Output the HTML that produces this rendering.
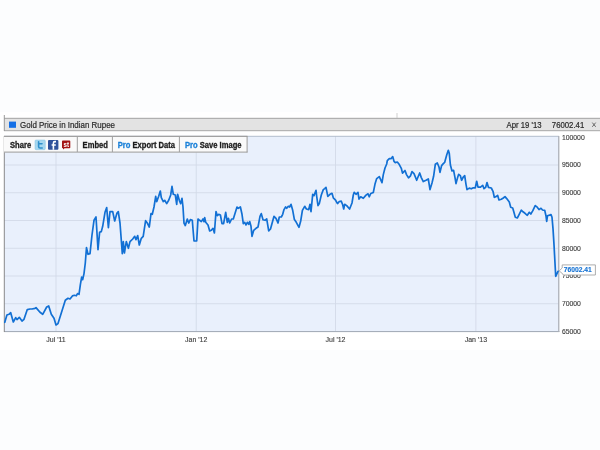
<!DOCTYPE html>
<html><head><meta charset="utf-8"><title>Gold Price in Indian Rupee</title>
<style>
html,body{margin:0;padding:0;background:#fcfdfe;}
body{width:600px;height:450px;overflow:hidden;position:relative;font-family:"Liberation Sans",sans-serif;}
svg{position:absolute;left:0;top:0;display:block;filter:blur(0.3px);}
text{font-family:"Liberation Sans",sans-serif;}
</style></head><body>
<svg width="600" height="450" viewBox="0 0 600 450">
<rect x="0" y="0" width="600" height="450" fill="#fcfdfe"/>
<rect x="0" y="112" width="600" height="238" fill="#ffffff"/>

<rect x="4" y="118" width="600" height="13" fill="#e3e3e3"/>
<rect x="4" y="117.8" width="600" height="1" fill="#a4a4a4"/>
<rect x="4" y="130.2" width="600" height="1" fill="#a8a8a8"/>
<rect x="3.8" y="115" width="1" height="16" fill="#9a9a9a"/>
<rect x="396.6" y="113" width="0.8" height="5" fill="#c4c4c4"/>
<rect x="9" y="121.6" width="7" height="6.2" fill="#146fe6"/>
<text transform="translate(20.1,127.6) scale(0.925,1)" font-size="8.6" fill="#2a2a2a" stroke="#2a2a2a" stroke-width="0.2">Gold Price in Indian Rupee</text>
<text transform="translate(541.6,127.5) scale(0.925,1)" font-size="8.4" fill="#2a2a2a" stroke="#2a2a2a" stroke-width="0.2" text-anchor="end">Apr 19 '13</text>
<text transform="translate(584.2,127.5) scale(0.925,1)" font-size="8.4" fill="#2a2a2a" stroke="#2a2a2a" stroke-width="0.2" text-anchor="end">76002.41</text>
<path d="M592.3 122.6 L595.7 126.8 M595.7 122.6 L592.3 126.8" stroke="#5a5a5a" stroke-width="0.9" fill="none"/>
<rect x="4" y="136" width="555" height="196" fill="#e9f0fc"/>
<rect x="4" y="164.55" width="555" height="0.9" fill="#d3dae8"/>
<rect x="4" y="192.30" width="555" height="0.9" fill="#d3dae8"/>
<rect x="4" y="220.05" width="555" height="0.9" fill="#d3dae8"/>
<rect x="4" y="247.80" width="555" height="0.9" fill="#d3dae8"/>
<rect x="4" y="275.55" width="555" height="0.9" fill="#d3dae8"/>
<rect x="4" y="303.30" width="555" height="0.9" fill="#d3dae8"/>
<rect x="55.55" y="136" width="0.9" height="195.5" fill="#d3dae8"/>
<rect x="195.75" y="136" width="0.9" height="195.5" fill="#d3dae8"/>
<rect x="335.05" y="136" width="0.9" height="195.5" fill="#d3dae8"/>
<rect x="475.45" y="136" width="0.9" height="195.5" fill="#d3dae8"/>
<rect x="4" y="135.8" width="555" height="1" fill="#b4bfcc"/>
<rect x="4" y="331" width="555.4" height="1.1" fill="#a6aeba"/>
<rect x="558.1" y="136" width="1.3" height="196" fill="#adb1b8"/>
<rect x="3.8" y="136" width="1" height="196" fill="#8a8a8a"/>
<text x="561.9" y="139.65" font-size="7.2" fill="#3a3a3a" stroke="#3a3a3a" stroke-width="0.12" textLength="22.8" lengthAdjust="spacingAndGlyphs">100000</text>
<text x="561.9" y="167.40" font-size="7.2" fill="#3a3a3a" stroke="#3a3a3a" stroke-width="0.12" textLength="19.0" lengthAdjust="spacingAndGlyphs">95000</text>
<text x="561.9" y="195.15" font-size="7.2" fill="#3a3a3a" stroke="#3a3a3a" stroke-width="0.12" textLength="19.0" lengthAdjust="spacingAndGlyphs">90000</text>
<text x="561.9" y="222.90" font-size="7.2" fill="#3a3a3a" stroke="#3a3a3a" stroke-width="0.12" textLength="19.0" lengthAdjust="spacingAndGlyphs">85000</text>
<text x="561.9" y="250.65" font-size="7.2" fill="#3a3a3a" stroke="#3a3a3a" stroke-width="0.12" textLength="19.0" lengthAdjust="spacingAndGlyphs">80000</text>
<text x="561.9" y="278.40" font-size="7.2" fill="#3a3a3a" stroke="#3a3a3a" stroke-width="0.12" textLength="19.0" lengthAdjust="spacingAndGlyphs">75000</text>
<text x="561.9" y="306.15" font-size="7.2" fill="#3a3a3a" stroke="#3a3a3a" stroke-width="0.12" textLength="19.0" lengthAdjust="spacingAndGlyphs">70000</text>
<text x="561.9" y="333.90" font-size="7.2" fill="#3a3a3a" stroke="#3a3a3a" stroke-width="0.12" textLength="19.0" lengthAdjust="spacingAndGlyphs">65000</text>
<text x="56.00" y="342" font-size="7" fill="#3c3c3c" stroke="#3c3c3c" stroke-width="0.12" text-anchor="middle">Jul '11</text>
<text x="196.20" y="342" font-size="7" fill="#3c3c3c" stroke="#3c3c3c" stroke-width="0.12" text-anchor="middle">Jan '12</text>
<text x="335.50" y="342" font-size="7" fill="#3c3c3c" stroke="#3c3c3c" stroke-width="0.12" text-anchor="middle">Jul '12</text>
<text x="475.90" y="342" font-size="7" fill="#3c3c3c" stroke="#3c3c3c" stroke-width="0.12" text-anchor="middle">Jan '13</text>
<polyline points="4.80,322.30 6.90,315.00 9.00,314.30 10.70,312.70 13.30,322.00 15.70,317.60 17.00,319.60 19.30,317.30 22.00,321.00 24.00,319.30 27.30,309.60 30.00,309.00 32.00,309.00 35.00,308.30 36.00,307.60 40.00,312.30 42.70,314.30 46.70,307.00 48.70,306.00 51.30,314.30 54.00,318.30 56.00,325.00 58.00,323.60 61.30,313.00 65.30,300.30 68.00,298.30 70.00,299.00 72.40,295.90 74.40,295.30 76.30,295.80 77.50,293.60 79.00,294.30 80.40,284.30 81.70,277.00 82.70,279.60 84.00,273.60 85.30,263.00 86.50,247.60 88.00,254.30 90.00,253.60 92.00,235.00 94.00,220.30 96.00,217.00 98.00,249.60 99.60,232.30 101.30,231.60 102.70,226.30 105.00,212.30 106.70,207.60 108.40,227.60 110.00,211.60 112.70,211.60 114.70,221.00 117.00,213.00 118.30,211.60 120.00,223.00 122.30,253.60 123.30,241.60 124.40,253.00 126.30,241.60 128.40,248.30 130.00,241.60 132.70,239.00 134.70,236.30 136.00,239.60 137.70,235.60 139.30,245.00 141.30,238.30 143.20,236.30 145.60,220.70 147.30,223.00 149.30,227.00 151.00,213.60 152.30,214.30 154.00,207.00 155.70,196.30 156.70,201.60 158.70,196.30 160.30,191.00 161.30,197.60 163.30,201.60 164.70,200.30 166.70,203.60 168.70,200.30 170.70,195.00 172.00,186.30 173.30,194.30 175.30,195.00 176.70,204.30 177.60,194.30 179.30,200.30 180.70,203.60 182.00,198.30 183.00,207.00 184.00,223.00 185.30,225.60 187.30,219.00 188.70,223.00 190.40,219.60 192.30,220.30 193.00,229.00 194.00,241.00 196.70,241.00 198.00,219.00 199.60,220.30 201.30,221.60 203.00,219.00 204.00,221.60 204.70,217.60 205.70,222.30 208.00,225.00 209.70,231.00 211.30,230.30 213.00,228.30 214.40,233.00 216.00,211.60 217.30,215.60 218.70,214.30 220.40,215.00 222.00,223.60 223.60,223.60 225.70,212.30 227.30,222.30 228.40,218.30 229.70,223.00 231.60,219.00 233.30,219.00 237.00,207.00 238.30,208.30 240.40,207.00 242.00,214.30 243.30,223.60 244.70,222.30 246.00,225.00 247.30,222.30 248.70,224.30 249.70,221.60 251.00,226.30 252.00,236.30 253.70,230.30 256.00,228.30 258.00,227.00 260.00,216.30 261.30,213.60 263.00,219.80 265.00,220.30 266.70,218.80 268.70,230.80 270.50,229.00 272.70,221.00 274.00,216.30 276.00,218.30 278.00,223.00 279.30,217.00 281.30,217.00 282.70,214.30 284.00,209.60 285.60,207.00 286.70,208.30 288.30,206.30 289.60,207.00 291.00,204.30 292.70,210.30 294.40,219.60 296.30,222.30 299.00,227.30 300.70,221.00 302.40,210.30 304.70,206.30 306.40,209.00 308.70,209.60 310.00,204.30 311.00,211.60 312.70,194.30 314.00,195.60 316.00,190.30 316.70,196.30 318.00,205.60 319.30,203.60 321.30,195.00 323.30,189.60 324.70,188.60 326.00,187.30 327.80,196.30 330.00,194.30 332.00,193.30 333.30,197.80 335.30,199.80 337.50,203.60 339.30,201.50 341.20,201.10 342.70,204.80 343.70,209.00 344.70,204.30 346.70,205.60 349.60,209.00 352.00,203.00 353.30,195.00 354.20,192.30 356.00,194.30 358.00,192.30 359.00,199.10 360.70,196.80 363.30,198.30 366.00,195.10 368.00,193.80 369.20,196.80 370.80,193.50 373.30,192.50 375.00,184.10 376.70,178.60 379.30,176.60 382.00,182.60 383.30,174.60 385.00,168.00 386.70,164.00 387.30,160.60 389.30,158.60 391.30,158.60 392.70,156.60 394.00,161.30 395.30,162.60 397.30,162.00 399.30,164.60 401.30,168.30 402.50,173.10 405.00,170.50 406.50,174.60 408.50,177.80 410.50,175.80 412.00,171.60 414.00,173.60 416.70,180.30 418.00,177.00 419.70,173.00 421.30,177.60 423.30,181.60 426.00,180.30 428.30,179.00 430.00,189.60 432.00,183.00 433.60,176.30 435.30,164.30 437.30,163.00 439.00,167.00 440.00,172.30 441.60,165.60 443.30,163.60 444.70,162.30 446.70,155.00 448.30,150.30 449.30,153.60 450.40,165.00 452.00,171.00 453.60,170.30 455.00,177.60 456.00,183.60 457.60,177.60 458.70,174.30 460.30,175.60 461.60,180.30 463.30,177.00 464.70,175.60 466.00,184.30 467.00,189.60 469.30,188.10 471.30,188.80 473.30,187.80 475.30,187.80 476.70,181.30 478.00,187.10 480.50,187.10 482.70,185.30 484.00,188.60 485.70,187.30 487.00,182.60 488.40,187.30 491.30,188.00 493.00,191.30 494.30,197.30 496.00,196.60 497.60,195.30 499.00,200.00 501.30,199.30 503.30,198.00 505.00,196.60 506.70,198.60 509.30,202.00 510.70,207.30 512.70,208.00 514.00,212.60 515.30,217.30 517.30,218.00 518.70,215.30 521.30,210.20 523.00,211.80 525.00,213.30 527.30,215.30 529.30,212.30 530.80,214.00 532.70,210.90 535.20,205.60 537.00,206.90 539.00,209.60 541.00,208.30 542.50,210.00 544.70,210.30 546.00,216.00 546.70,221.30 547.50,215.70 549.50,215.10 551.00,214.60 552.00,217.30 553.00,228.60 554.00,244.60 555.70,276.30 558.00,271.30" fill="none" stroke="#1270d4" stroke-width="1.7" stroke-linejoin="round" stroke-linecap="round"/>
<path d="M562.2 264.9 H595.4 V275 H563.4 L562.4 273.6 L559.2 270.9 L562.2 268 Z" fill="#fff" stroke="#a4a4a4" stroke-width="0.9" stroke-linejoin="round"/>
<text x="563.8" y="272.4" font-size="7.1" font-weight="bold" fill="#1874d4" stroke="#1874d4" stroke-width="0.15" textLength="28" lengthAdjust="spacingAndGlyphs">76002.41</text>
<rect x="4" y="136" width="243.5" height="16.4" fill="#fafafa"/>
<rect x="4" y="135.8" width="243.5" height="1" fill="#8c8c8c"/>
<rect x="4" y="151.6" width="243.5" height="1" fill="#9a9a9a"/>
<rect x="246.6" y="136" width="1" height="16.4" fill="#9a9a9a"/>
<rect x="76.8" y="136.5" width="1" height="15.5" fill="#a0a0a0"/>
<rect x="111.9" y="136.5" width="1" height="15.5" fill="#a0a0a0"/>
<rect x="178.9" y="136.5" width="1" height="15.5" fill="#a0a0a0"/>
<text transform="translate(10.0,147.8) scale(0.905,1)" font-size="8.4" font-weight="bold" fill="#1c1c1c" stroke="#1c1c1c" stroke-width="0.3">Share</text>
<text transform="translate(82.6,147.8) scale(0.905,1)" font-size="8.4" font-weight="bold" fill="#1c1c1c" stroke="#1c1c1c" stroke-width="0.3">Embed</text>
<text transform="translate(117.7,147.8) scale(0.905,1)" font-size="8.4" font-weight="bold" fill="#1c1c1c" stroke="#1c1c1c" stroke-width="0.3"><tspan fill="#1a80d8" stroke="#1a80d8">Pro</tspan> Export Data</text>
<text transform="translate(185.0,147.8) scale(0.905,1)" font-size="8.4" font-weight="bold" fill="#1c1c1c" stroke="#1c1c1c" stroke-width="0.3"><tspan fill="#1a80d8" stroke="#1a80d8">Pro</tspan> Save Image</text>
<rect x="35" y="140" width="10.3" height="9.7" rx="1" fill="#a6d8f0" stroke="#86c2e2" stroke-width="0.5"/>
<path d="M38.6 141.8 V146.6 Q38.6 148 40 148 H42.2 M38.6 143.8 H42" stroke="#2f90cc" stroke-width="1.6" fill="none" stroke-linecap="round"/>
<rect x="48" y="140" width="10.4" height="9.7" rx="1" fill="#30529a"/>
<path d="M56 141.6 H54.8 Q53.4 141.6 53.4 143.2 V149.7 M51.6 145 H55.8" stroke="#fff" stroke-width="1.6" fill="none"/>
<path d="M62.8 140.6 H69.5 Q70.3 140.6 70.3 141.4 V147.4 Q70.3 148.2 69.5 148.2 H64.6 L63 149.4 V148.2 H62.8 Q62 148.2 62 147.4 V141.4 Q62 140.6 62.8 140.6 Z" fill="#a31414"/>
<text x="63.5" y="146.5" font-size="6.4" font-weight="bold" fill="#fff" textLength="5.5" lengthAdjust="spacingAndGlyphs">st</text>
</svg></body></html>
